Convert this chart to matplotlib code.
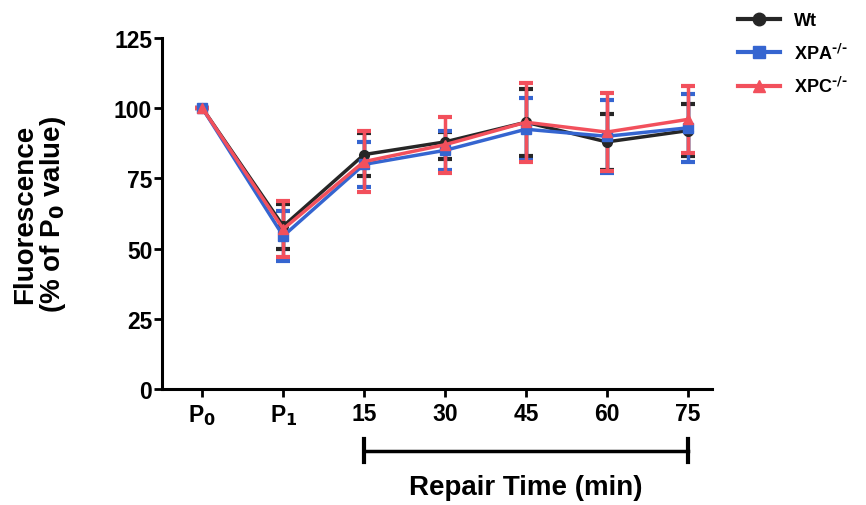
import matplotlib.pyplot as plt
from matplotlib import transforms
from matplotlib.lines import Line2D

categories = ['P$_\\mathbf{0}$', 'P$_\\mathbf{1}$', '15', '30', '45', '60', '75']

wt = [100, 58, 83.5, 88, 95, 88, 92]
wt_err_lo = [0, 8, 7.5, 6, 12, 10, 9]
wt_err_hi = [0, 8, 7.5, 3.5, 12, 10, 9.5]

xpa = [100, 54.5, 80, 85, 92.5, 90, 93]
xpa_err = [0, 9, 8, 7, 11, 13, 12]

xpc = [100, 57, 81, 87, 95, 91.5, 96]
xpc_err = [0, 10, 11, 10, 14, 14, 12]

series = [
    ('Wt', wt, [wt_err_lo, wt_err_hi], '#262626', 'o'),
    ('XPA$^{\\text{-/-}}$', xpa, xpa_err, '#3565d0', 's'),
    ('XPC$^{\\text{-/-}}$', xpc, xpc_err, '#f2505c', '^'),
]

plt.rcParams['font.family'] = ['Liberation Sans', 'DejaVu Sans']
plt.rcParams['font.weight'] = 'bold'
plt.rcParams['mathtext.default'] = 'bf'

fig = plt.figure(figsize=(8.66, 5.06), dpi=100)
ax = fig.add_axes([0.187, 0.229, 0.635, 0.694])

x = list(range(len(categories)))
handles = []
for name, vals, err, color, marker in series:
    ax.errorbar(x, vals, yerr=err, color=color, marker=marker, markersize=7,
                linewidth=2.5, elinewidth=2.5, capsize=5, capthick=3,
                clip_on=False)
    handles.append(Line2D([], [], color=color, marker=marker, markersize=9,
                          linewidth=3, label=name))

ax.set_xlim(-0.5, 6.3)
ax.set_ylim(0, 125)
ax.set_yticks([0, 25, 50, 75, 100, 125])
ax.set_xticks(x)
ax.set_xticklabels(categories)
ax.tick_params(axis='both', labelsize=16.5, width=2, length=6, direction='out')
ax.tick_params(axis='y', pad=1)
for side in ['top', 'right']:
    ax.spines[side].set_visible(False)
for side in ['left', 'bottom']:
    ax.spines[side].set_linewidth(2.2)

ax.set_ylabel('Fluorescence\n(% of P$_\\mathbf{0}$ value)', fontsize=20,
              fontweight='bold', linespacing=1.0)
ax.yaxis.set_label_coords(-0.17, 0.5)

# bracket for repair time
trans = transforms.blended_transform_factory(ax.transData, ax.transAxes)
ax.plot([2, 6], [-0.177, -0.177], color='black', linewidth=2.5,
        transform=trans, clip_on=False)
for xe in [2, 6]:
    ax.plot([xe, xe], [-0.142, -0.208], color='black', linewidth=3,
            transform=trans, clip_on=False)
ax.text(4, -0.279, 'Repair Time (min)', transform=trans, ha='center',
        va='center', fontsize=20, fontweight='bold')

ax.legend(handles=handles, loc='upper left', bbox_to_anchor=(1.018, 1.12),
          frameon=False, fontsize=13, handlelength=2.3, labelspacing=0.75)

fig.savefig('out.png', dpi=100)
